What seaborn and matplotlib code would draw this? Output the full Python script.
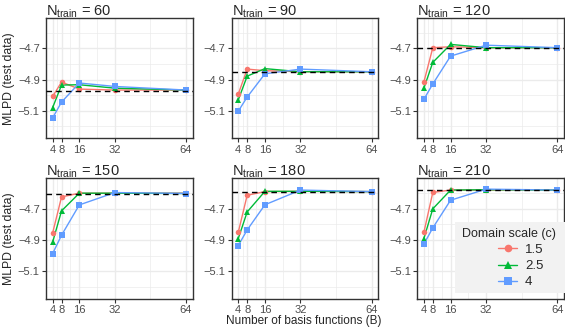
import numpy as np
import pandas as pd
import matplotlib
matplotlib.use("Agg")
import matplotlib.pyplot as plt
from matplotlib.lines import Line2D
from matplotlib.patches import Rectangle
import seaborn as sns

sns.set_theme(style="white")
plt.rcParams['font.family'] = ['Liberation Sans', 'DejaVu Sans']
plt.rcParams['axes.unicode_minus'] = True

# ---- data ----
n_train = [60, 90, 120, 150, 180, 210]
basis = [4, 8, 16, 32, 64]
scales = ["1.5", "2.5", "4"]

vals_15 = [
    [-5.008, -4.916, -4.961, -4.967, -4.967],
    [-4.993, -4.833, -4.843, -4.850, -4.850],
    [-4.915, -4.696, -4.690, -4.696, -4.696],
    [-4.854, -4.624, -4.600, -4.600, -4.600],
    [-4.850, -4.613, -4.590, -4.588, -4.590],
    [-4.850, -4.595, -4.580, -4.580, -4.580],
]
vals_25 = [
    [-5.079, -4.935, -4.933, -4.955, -4.967],
    [-5.030, -4.878, -4.830, -4.850, -4.850],
    [-4.955, -4.790, -4.675, -4.696, -4.696],
    [-4.913, -4.713, -4.600, -4.600, -4.602],
    [-4.890, -4.720, -4.588, -4.588, -4.590],
    [-4.890, -4.700, -4.580, -4.578, -4.580],
]
vals_4 = [
    [-5.145, -5.044, -4.922, -4.944, -4.967],
    [-5.102, -5.012, -4.863, -4.833, -4.850],
    [-5.026, -4.928, -4.750, -4.680, -4.696],
    [-4.986, -4.869, -4.675, -4.596, -4.602],
    [-4.935, -4.835, -4.674, -4.580, -4.590],
    [-4.925, -4.822, -4.645, -4.574, -4.580],
]
reference = [-4.972, -4.852, -4.696, -4.602, -4.590, -4.580]

y_ticks = [-5.1, -4.9, -4.7]

rows = []
for i, n in enumerate(n_train):
    for s, arr in zip(scales, [vals_15, vals_25, vals_4]):
        for b, v in zip(basis, arr[i]):
            rows.append({"N": n, "B": b, "scale": s, "MLPD": v})
df = pd.DataFrame(rows)

palette = {"1.5": "#F8766D", "2.5": "#00BA38", "4": "#619CFF"}
markers = {"1.5": "o", "2.5": "^", "4": "s"}
msizes = {"1.5": 4.0, "2.5": 4.8, "4": 4.8}

fig, axes = plt.subplots(2, 3, figsize=(5.65, 3.32), dpi=100)
fig.subplots_adjust(left=0.0814, right=0.998, top=0.9458, bottom=0.0994,
                    wspace=0.266, hspace=0.332)

for i, ax in enumerate(axes.flat):
    sub = df[df["N"] == n_train[i]]
    sns.lineplot(data=sub, x="B", y="MLPD", hue="scale", palette=palette,
                 hue_order=scales, ax=ax, legend=False, linewidth=1.0, zorder=3)
    for s in scales:
        ss = sub[sub["scale"] == s]
        ax.plot(ss["B"], ss["MLPD"], linestyle="none", marker=markers[s],
                markersize=msizes[s], color=palette[s], markeredgewidth=0, zorder=4)
    ax.axhline(reference[i], color="black", linestyle=(0, (4, 3)), linewidth=1.0, zorder=5)
    ax.set_xlim(1, 67)
    ax.set_ylim(-5.277, -4.506)
    ax.set_xticks(basis)
    ax.set_xticks([6, 12, 24, 48], minor=True)
    ax.set_yticks(y_ticks)
    ax.set_yticks([-5.2, -5.0, -4.8, -4.6], minor=True)
    ax.set_yticklabels([f"\u2212{abs(t):.1f}" for t in y_ticks])
    ax.set_xticklabels([str(b) for b in basis])
    ax.grid(True, which="major", color="#ebebeb", linewidth=1.0, zorder=0)
    ax.grid(True, which="minor", color="#ebebeb", linewidth=0.5, zorder=0)
    ax.set_axisbelow(True)
    for sp in ax.spines.values():
        sp.set_color("#333333")
        sp.set_linewidth(1.0)
    ax.tick_params(axis="both", which="major", length=3, width=0.8, color="#333333",
                   labelsize=8, labelcolor="#4d4d4d", pad=1.5, left=True, bottom=True,
                   labelleft=True, labelbottom=True)
    ax.tick_params(which="minor", length=0)
    ax.set_xlabel("")
    ax.set_ylabel("")
    ax.set_title(r"N$_{\mathregular{train}}$ = " + str(n_train[i]), loc="left",
                 fontsize=10.5, pad=2)

for r in range(2):
    axes[r, 0].set_ylabel("MLPD (test data)", fontsize=8.8, labelpad=2)

fig.text(0.538, 0.033, "Number of basis functions (B)", ha="center", va="center", fontsize=8.5)

# legend background + title
W, H = 565.0, 332.0
bg = Rectangle((455 / W, 1 - 293 / H), 110 / W, 71 / H, transform=fig.transFigure,
               facecolor="#f2f2f2", edgecolor="none", zorder=6)
fig.add_artist(bg)
fig.text(461.5 / W, 1 - 234 / H, "Domain scale (c)", ha="left", va="center",
         fontsize=9, zorder=7)

handles = [Line2D([], [], color=palette[s], marker=markers[s], markersize=msizes[s] + 1.5,
                  markeredgewidth=0, linewidth=1.0) for s in scales]
leg = fig.legend(handles, scales, loc="center left",
                 bbox_to_anchor=(498 / W, 1 - 266 / H), fontsize=9.5,
                 frameon=False, handlelength=1.45, labelspacing=0.3,
                 borderpad=0, borderaxespad=0, handletextpad=0.6)
leg.set_zorder(8)

fig.savefig("out.png", dpi=100)
